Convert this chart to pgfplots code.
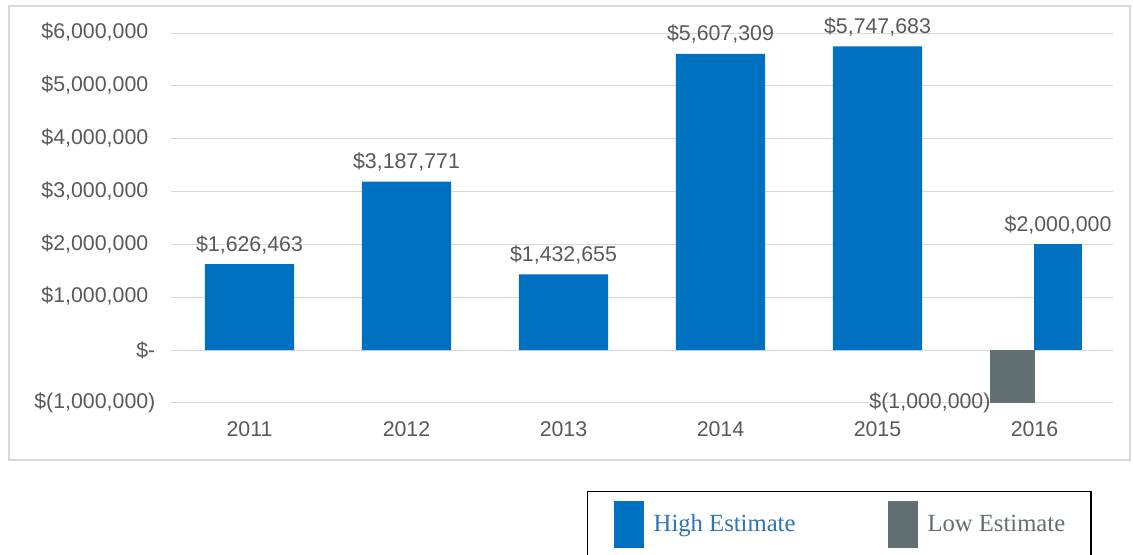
\documentclass[border=0pt]{standalone}
\usepackage{pgfplots}
\usepackage{pgfplotstable}
\pgfplotsset{compat=1.18}
\usepackage{fontspec}
\setmainfont{Liberation Sans}
\newfontfamily\legendfont{Liberation Serif}
\definecolor{barblue}{RGB}{0,112,192}
\definecolor{bargray}{RGB}{99,112,115}
\definecolor{labelgray}{RGB}{89,89,89}
\definecolor{gridgray}{RGB}{217,217,217}
\definecolor{legblue}{RGB}{46,117,182}
\definecolor{leggray}{RGB}{100,110,112}

\pgfplotstableread[row sep=\\]{
x y label\\
0 1626463 {\$1,626,463}\\
1 3187771 {\$3,187,771}\\
2 1432655 {\$1,432,655}\\
3 5607309 {\$5,607,309}\\
4 5747683 {\$5,747,683}\\
}\hightable

\begin{document}
\begin{tikzpicture}
\useasboundingbox (0,0) rectangle (849.75pt,415.5pt);
\draw[gridgray, line width=1pt] (6.75pt,70.5pt) rectangle (847.5pt,411pt);
\begin{axis}[
  at={(128.25pt,113.25pt)}, anchor=south west,
  scale only axis, width=706.5pt, height=277.5pt,
  xmin=-0.5, xmax=5.5, ymin=-1000000, ymax=6000000,
  axis line style={draw=none},
  ybar,
  xtick={0,1,2,3,4,5},
  xticklabels={2011,2012,2013,2014,2015,2016},
  ytick={-1000000,0,1000000,2000000,3000000,4000000,5000000,6000000},
  yticklabels={{\$(1,000,000)},{\$-\hspace{12pt}},{\$1,000,000\phantom{)}},{\$2,000,000\phantom{)}},{\$3,000,000\phantom{)}},{\$4,000,000\phantom{)}},{\$5,000,000\phantom{)}},{\$6,000,000\phantom{)}}},
  scaled y ticks=false,
  ymajorgrids, grid style={gridgray, line width=0.75pt},
  major tick length=0pt,
  tick label style={font=\fontsize{16}{19}\selectfont, text=labelgray},
  xticklabel style={yshift=-10.7pt},
  yticklabel style={xshift=-8.2pt},
  clip=false,
  legend columns=2,
  legend style={at={(0.4416,-0.2378)}, anchor=north west, draw=black, line width=1.1pt,
    inner xsep=19.5pt, inner ysep=7pt,
    font=\legendfont\fontsize{18.5}{22}\selectfont,
    nodes={inner sep=0pt},
    /tikz/every odd column/.style={column sep=7.5pt},
    /tikz/every even column/.style={column sep=69pt}},
  legend image code/.code={\fill[#1] (0pt,-18.1pt) rectangle (22.5pt,17.1pt);},
  nodes near coords style={font=\fontsize{16}{19}\selectfont, text=labelgray},
]
\addplot[fill=barblue, draw=none, bar width=0.567, bar shift=0pt,
  point meta=explicit symbolic, nodes near coords={\pgfplotspointmeta},
  nodes near coords style={yshift=4pt}]
  table[x=x, y=y, meta=label] {\hightable};
\addlegendentry{\textcolor{legblue}{High Estimate}}
\addplot[fill=barblue, draw=none, bar width=0.31, bar shift=0.15,
  nodes near coords={\$2,000,000}, nodes near coords style={yshift=4pt}, forget plot]
  coordinates {(5,2000000)};
\addplot[fill=bargray, draw=none, bar width=0.29, bar shift=-0.14,
  nodes near coords={\$(1,000,000)}, nodes near coords style={anchor=east, xshift=-13pt}]
  coordinates {(5,-1000000)};
\addlegendentry{\textcolor{leggray}{Low Estimate}}
\end{axis}
\end{tikzpicture}
\end{document}
